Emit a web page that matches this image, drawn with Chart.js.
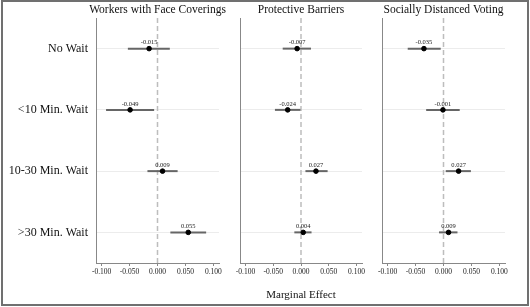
<!DOCTYPE html>
<html>
<head>
<meta charset="utf-8">
<script src="https://cdn.jsdelivr.net/npm/chart.js@4/dist/chart.umd.min.js"></script>
<style>
  body { margin: 0; background: #fff; }
  #frame { position: absolute; left: 0; top: 0; width: 530px; height: 307px; overflow: hidden; }
  #border { position: absolute; left: 1px; top: 0; width: 528px; height: 306px; box-sizing: border-box; border: 2px solid #707070; pointer-events: none; }
  canvas { position: absolute; top: 0; }
</style>
</head>
<body>
<div id="frame">
  <canvas id="c1" style="left:0px"></canvas>
  <canvas id="c2" style="left:230px"></canvas>
  <canvas id="c3" style="left:372px"></canvas>
  <div id="border"></div>
</div>
<script>
// categorias (de arriba hacia abajo)
const categories = ['No Wait', '<10 Min. Wait', '10-30 Min. Wait', '>30 Min. Wait'];
const panelTitles = ['Workers with Face Coverings', 'Protective Barriers', 'Socially Distanced Voting'];
const xTicks = [-0.1, -0.05, 0, 0.05, 0.1];

// efectos marginales y sus intervalos, por panel
const faceEst  = [-0.015, -0.049, 0.009, 0.055];
const faceLow  = [-0.053, -0.092, -0.018, 0.023];
const faceHigh = [0.022, -0.006, 0.036, 0.087];

const barrierEst  = [-0.007, -0.024, 0.027, 0.004];
const barrierLow  = [-0.033, -0.047, 0.008, -0.012];
const barrierHigh = [0.018, -0.001, 0.048, 0.019];

const distEst  = [-0.035, -0.001, 0.027, 0.009];
const distLow  = [-0.064, -0.031, 0.004, -0.008];
const distHigh = [-0.005, 0.029, 0.049, 0.025];

const serif = "'Liberation Serif', 'Times New Roman', serif";

// titulo del panel centrado sobre el area del grafico + etiquetas de valor
const panelText = {
  id: 'panelText',
  afterDatasetsDraw(chart, args, opts) {
    const ctx = chart.ctx;
    const area = chart.chartArea;
    ctx.save();
    ctx.fillStyle = '#111';
    ctx.textAlign = 'center';
    ctx.textBaseline = 'middle';
    ctx.font = '11.5px ' + serif;
    ctx.fillText(opts.title, (area.left + area.right) / 2, 10);

    const ds = chart.data.datasets.find(d => d.label === 'est');
    const meta = chart.getDatasetMeta(chart.data.datasets.indexOf(ds));
    ctx.font = '6.5px ' + serif;
    ctx.fillStyle = '#222';
    meta.data.forEach((pt, i) => {
      ctx.fillText(ds.data[i].x.toFixed(3), pt.x, pt.y - 6);
    });
    ctx.restore();
  }
};

function makePanel(id, w, pad, yAxisW, idx, est, low, high) {
  const canvas = document.getElementById(id);
  canvas.width = w; canvas.height = 307;
  canvas.style.width = w + 'px'; canvas.style.height = '307px';

  const datasets = [];
  // linea vertical en cero
  datasets.push({
    type: 'line', data: [{ x: 0, y: 0.5 }, { x: 0, y: 4.5 }],
    borderColor: '#bdbdbd', borderWidth: 1.5, borderDash: [5, 3],
    pointRadius: 0, order: 3
  });
  est.forEach((e, i) => {
    datasets.push({
      type: 'line', data: [{ x: low[i], y: i + 1 }, { x: high[i], y: i + 1 }],
      borderColor: '#666', borderWidth: 2, pointRadius: 0, order: 2
    });
  });
  datasets.push({
    label: 'est', type: 'scatter',
    data: est.map((e, i) => ({ x: e, y: i + 1 })),
    backgroundColor: '#000', borderColor: '#000', pointRadius: 2.3, order: 1
  });

  new Chart(canvas, {
    type: 'scatter',
    data: { datasets },
    options: {
      responsive: false,
      animation: false,
      layout: { padding: pad },
      plugins: {
        legend: { display: false },
        tooltip: { enabled: false },
        title: { display: false },
        panelText: { title: panelTitles[idx] }
      },
      scales: {
        x: {
          type: 'linear', min: -0.11, max: 0.11,
          afterBuildTicks: s => { s.ticks = xTicks.map(v => ({ value: v })); },
          afterFit: s => { s.height = 40; },
          ticks: {
            color: '#222', padding: 2, maxRotation: 0, autoSkip: false,
            font: { family: serif, size: 7.5 },
            callback: v => v.toFixed(3)
          },
          grid: { drawOnChartArea: false, drawTicks: true, tickLength: 3, color: '#888' },
          border: { display: true, color: '#888', width: 1 },
          title: {
            display: idx === 1, text: 'Marginal Effect', color: '#111',
            font: { family: serif, size: 11, weight: 'normal', lineHeight: 1.2 },
            padding: { top: 0, bottom: 1 }
          }
        },
        y: {
          type: 'linear', min: 0.5, max: 4.5, reverse: true,
          afterBuildTicks: s => { s.ticks = categories.map((c, i) => ({ value: i + 1 })); },
          afterFit: s => { s.width = yAxisW; },
          ticks: {
            display: idx === 0, color: '#111', padding: 8,
            font: { family: serif, size: 12 },
            callback: v => categories[v - 1]
          },
          grid: { drawTicks: false, color: '#ececec', lineWidth: 1 },
          border: { display: true, color: '#888', width: 1 }
        }
      }
    },
    plugins: [panelText]
  });
}

makePanel('c1', 230, { left: 0, right: 11, top: 18, bottom: 4 }, 96, 0, faceEst, faceLow, faceHigh);
makePanel('c2', 140, { left: 10, right: 8, top: 18, bottom: 4 }, 0, 1, barrierEst, barrierLow, barrierHigh);
makePanel('c3', 158, { left: 10, right: 25, top: 18, bottom: 4 }, 0, 2, distEst, distLow, distHigh);
</script>
</body>
</html>
